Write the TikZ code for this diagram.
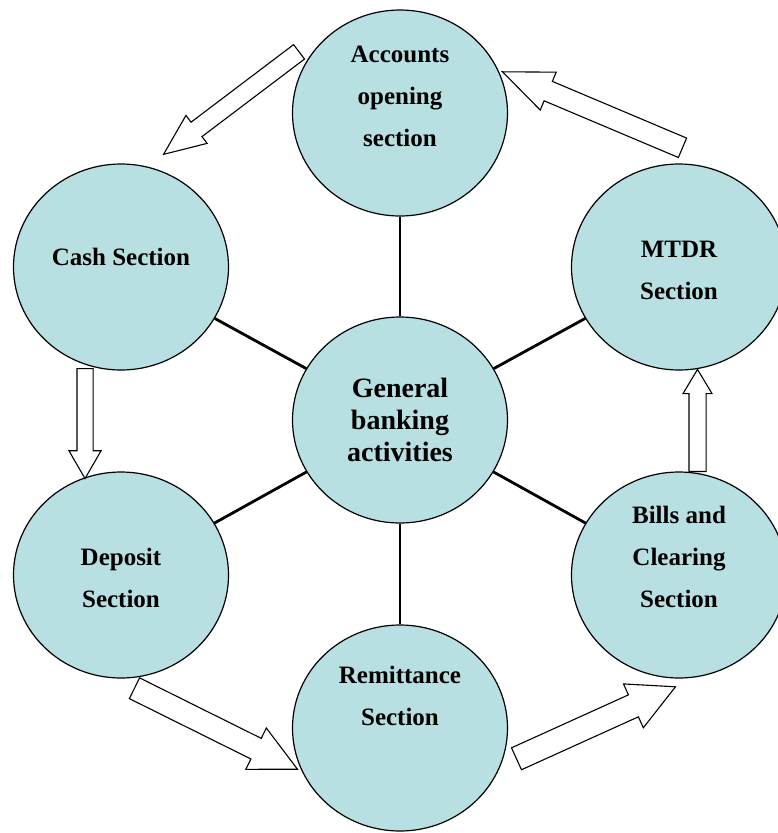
\documentclass[tikz,border=0pt]{standalone}
\usepackage{fontspec}
\setmainfont{Liberation Serif}
\usetikzlibrary{shapes.geometric,shapes.arrows,calc}

\definecolor{secfill}{RGB}{184,223,226}

\tikzset{
  sect/.style={ellipse, draw, fill=secfill, line width=1.2pt, minimum width=215pt, minimum height=206pt, inner sep=0pt},
  lbl/.style={align=center, font=\fontsize{25}{42}\selectfont\bfseries},
  biglbl/.style={align=center, font=\fontsize{28}{32}\selectfont\bfseries},
  spoke/.style={line width=2.8pt},
  flowarrow/.style={single arrow, draw, fill=white, line width=1.1pt, inner xsep=0pt, single arrow head indent=0pt}
}

% hollow arrow: tail, tip, half shaft width, head extend, tip angle
\newcommand{\flowarr}[5]{%
  \path let \p1=($(#2)-(#1)$), \n1={veclen(\x1,\y1)}, \n2={atan2(\y1,\x1)} in
    (#1) node[flowarrow, anchor=tail, rotate=\n2, minimum height=\n1,
      inner ysep=#3pt, single arrow head extend=#4pt, single arrow tip angle=#5] {};
}

\begin{document}
\begin{tikzpicture}[x=1pt, y=-1pt]
\useasboundingbox (0,0) rectangle (777,833);

% the seven sections
\node[sect] (gen) at (400,420) {};
\node[sect] (acc) at (400,113) {};
\node[sect] (cash) at (121,267) {};
\node[sect] (mtdr) at (679,267) {};
\node[sect] (dep) at (121,575) {};
\node[sect] (bills) at (679,575) {};
\node[sect] (rem) at (400,728) {};

\node[biglbl] (gen-t) at (400,420) {General\\banking\\activities};
\node[lbl] (acc-t) at (400,96) {Accounts\\opening\\section};
\node[lbl] (cash-t) at (121,257) {Cash Section};
\node[lbl] (mtdr-t) at (679,270) {MTDR\\Section};
\node[lbl] (dep-t) at (121,578) {Deposit\\Section};
\node[lbl] (bills-t) at (679,557) {Bills and\\Clearing\\Section};
\node[lbl] (rem-t) at (400,696) {Remittance\\Section};

% spokes
\foreach \s in {acc,cash,mtdr,dep,bills,rem}
  \draw[spoke] (gen) -- (\s);

% flow arrows round the ring
\coordinate (a1s) at (299.5,51.5);  \coordinate (a1e) at (164,154);
\coordinate (a2s) at (683,148);     \coordinate (a2e) at (503,72);
\coordinate (a3s) at (85,368);      \coordinate (a3e) at (85,478);
\coordinate (a4s) at (697.5,472);   \coordinate (a4e) at (697.5,370);
\coordinate (a5s) at (134,688);     \coordinate (a5e) at (297,769);
\coordinate (a6s) at (516,759);     \coordinate (a6e) at (675,687);

\flowarr{a1s}{a1e}{8.5}{8.5}{46}
\flowarr{a2s}{a2e}{10}{10}{45}
\flowarr{a3s}{a3e}{7.5}{8}{60}
\flowarr{a4s}{a4e}{8}{6}{62}
\flowarr{a5s}{a5e}{11}{11.5}{53}
\flowarr{a6s}{a6e}{11.5}{12}{55}

\end{tikzpicture}
\end{document}
